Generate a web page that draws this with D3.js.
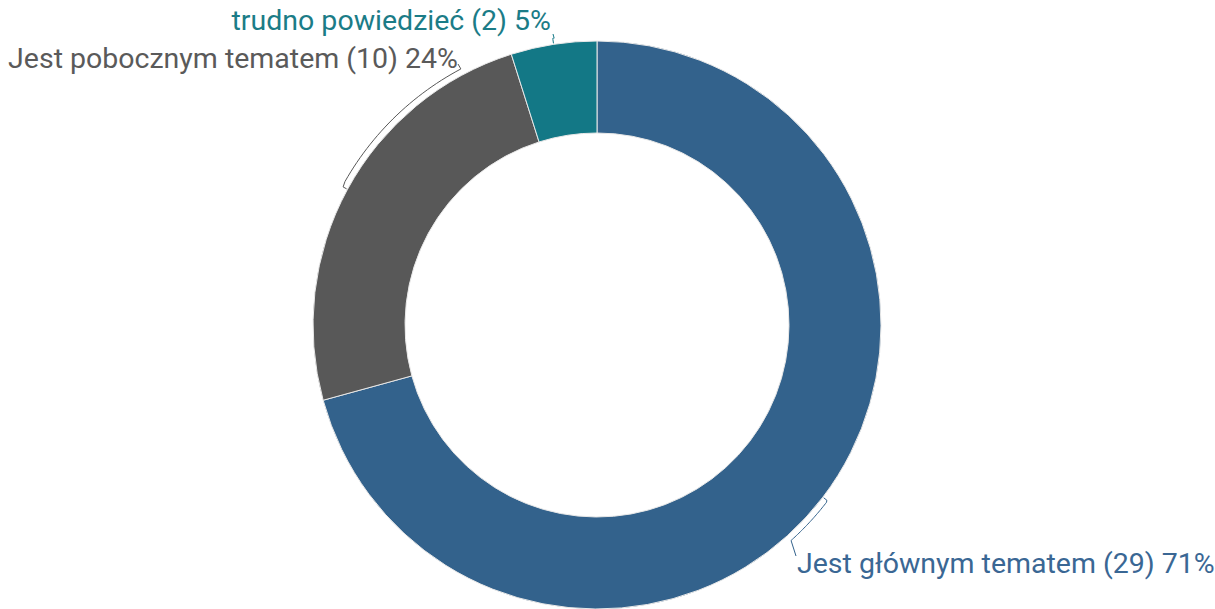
<!DOCTYPE html>
<html><head><meta charset="utf-8">
<script src="https://cdn.jsdelivr.net/npm/d3@7"></script>
<style>body{margin:0;background:#fff;}svg{display:block;}</style>
</head><body>
<svg id="c" width="1215" height="609"></svg>
<script>
const categories = ["Jest głównym tematem", "Jest pobocznym tematem", "trudno powiedzieć"];
const counts = [29, 10, 2];
const percents = ["71%", "24%", "5%"];
const colors = ["#33628c", "#585858", "#137886"];
const textColors = ["#3a6794", "#5a5a5a", "#1b7c87"];

const W = 1215, H = 609;
const cx = 597, cy = 325, rOuter = 284, rInner = 192;
const svg = d3.select("#c");
const g = svg.append("g").attr("transform", `translate(${cx},${cy})`);

const data = categories.map((c, i) => ({name: c, value: counts[i], pct: percents[i], i}));
const pie = d3.pie().value(d => d.value).sort(null);
const arcs = pie(data);
const arc = d3.arc().innerRadius(rInner).outerRadius(rOuter);

g.selectAll("path.slice").data(arcs).enter().append("path")
  .attr("class", "slice")
  .attr("d", arc)
  .attr("fill", d => colors[d.data.i])
  .attr("stroke", "#e8e8e8").attr("stroke-width", 1);

// label layout: target angle (deg) for the end of the leader arc, anchor
const labelLayout = [
  {endAng: 138, tx: 797, ty: 573, anchor: "start", tick: [796, 556]},
  {endAng: 332, tx: 458, ty: 68, anchor: "end", tick: [458, 64]},
  {endAng: 351.5, tx: 551, ty: 30, anchor: "end", tick: [553, 34]}
];

function pt(angDeg, r) {
  const a = angDeg * Math.PI / 180;
  return [r * Math.sin(a), -r * Math.cos(a)];
}

arcs.forEach((d, k) => {
  const L = labelLayout[k];
  const mid = (d.startAngle + d.endAngle) / 2 * 180 / Math.PI;
  const pts = [pt(mid, rOuter + 1), pt(mid, rOuter + 5)];
  const n = 30;
  for (let j = 1; j <= n; j++) {
    const a = mid + (L.endAng - mid) * j / n;
    pts.push(pt(a, rOuter + 6));
  }
  pts.push([L.tick[0] - cx, L.tick[1] - cy]);
  const line = d3.line();
  g.append("path").attr("d", line(pts)).attr("fill", "none")
    .attr("stroke", "#ffffff").attr("stroke-width", 3);
  g.append("path").attr("d", line(pts)).attr("fill", "none")
    .attr("stroke", colors[d.data.i]).attr("stroke-width", 1);
  svg.append("text")
    .attr("x", L.tx).attr("y", L.ty)
    .attr("text-anchor", L.anchor)
    .attr("font-family", "Roboto, sans-serif")
    .attr("font-size", 28.5)
    .attr("fill", textColors[d.data.i])
    .text(`${d.data.name} (${d.data.value}) ${d.data.pct}`);
});
</script>
</body></html>
